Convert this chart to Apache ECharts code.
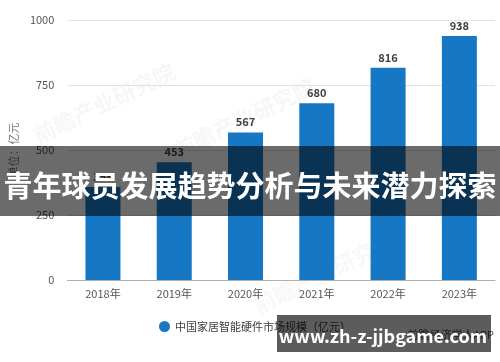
<!DOCTYPE html>
<html><head><meta charset="utf-8">
<script src="https://cdn.jsdelivr.net/npm/echarts@6/dist/echarts.min.js"></script>
<style>html,body{margin:0;padding:0;background:#fff}#c{width:500px;height:362px}</style>
</head><body><div id="c"></div>
<script>
const categories = ['2018年','2019年','2020年','2021年','2022年','2023年'];
const marketSize = [358, 453, 567, 680, 816, 938];
const yTicks = [0, 250, 500, 750, 1000];
const seriesName = '中国家居智能硬件市场规模（亿元）';
const yAxisName = '单位：亿元';
const bannerTitle = '青年球员发展趋势分析与未来潜力探索';
const siteText = 'www.zh-z-jjbgame.com';
const appText = '前瞻经济学人APP';

const chart = echarts.init(document.getElementById('c'));
const font = '"Noto Sans CJK SC", "Noto Sans", sans-serif';
chart.setOption({
  animation: false,
  textStyle: { fontFamily: font },
  grid: { left: 61, right: 5, top: 20, bottom: 82 },
  legend: {
    left: 154, top: 316, icon: 'circle', itemWidth: 11, itemHeight: 11, itemGap: 6,
    textStyle: { fontSize: 11, color: '#404040', fontFamily: font },
    data: [seriesName]
  },
  xAxis: {
    type: 'category', data: categories,
    axisLine: { lineStyle: { color: '#b0b0b0' } },
    axisTick: { alignWithLabel: true, length: 5, lineStyle: { color: '#b0b0b0' } },
    axisLabel: { fontSize: 11, color: '#555', margin: 8 }
  },
  yAxis: {
    type: 'value', min: yTicks[0], max: yTicks[yTicks.length - 1], interval: 250,
    name: yAxisName, nameLocation: 'middle', nameRotate: 90, nameGap: 44,
    nameTextStyle: { fontSize: 11, color: '#777' },
    axisLabel: { fontSize: 11, color: '#555', margin: 13, formatter: v => String(v) },
    splitLine: { lineStyle: { color: '#e3e3e3' } },
    axisLine: { show: false }, axisTick: { show: false }
  },
  series: [{
    name: seriesName, type: 'bar', data: marketSize, barWidth: 35,
    itemStyle: { color: '#1677c5' },
    label: { show: true, position: 'top', distance: 5, fontSize: 11, fontWeight: 'bold', color: '#404040' }
  }],
  graphic: [
    { type: 'text', left: 30, top: 60, rotation: Math.PI / 7, z: 0,
      style: { text: '前瞻产业研究院', fontSize: 22, fontWeight: 'bold', fill: 'rgba(0,0,0,0.035)', fontFamily: font } },
    { type: 'text', left: 170, top: 75, rotation: Math.PI / 7, z: 0,
      style: { text: '前瞻产业研究院', fontSize: 22, fontWeight: 'bold', fill: 'rgba(0,0,0,0.035)', fontFamily: font } },
    { type: 'text', left: 250, top: 230, rotation: Math.PI / 7, z: 0,
      style: { text: '前瞻产业研究院', fontSize: 22, fontWeight: 'bold', fill: 'rgba(0,0,0,0.03)', fontFamily: font } },
    { type: 'text', right: 6, top: 329, z: 50,
      style: { text: appText, fontSize: 11, fill: '#555', fontFamily: font } },
    { type: 'rect', shape: { x: 0, y: 146, width: 500, height: 70 }, z: 100,
      style: { fill: 'rgba(0,0,0,0.58)' } },
    { type: 'text', x: 250, y: 186, z: 101,
      style: { text: bannerTitle, fontSize: 29, fontWeight: 'bold', fill: '#fff', align: 'center', verticalAlign: 'middle', fontFamily: font } },
    { type: 'rect', shape: { x: 277, y: 315, width: 214, height: 37 }, z: 100,
      style: { fill: 'rgba(0,0,0,0.64)' } },
    { type: 'text', x: 383, y: 336, z: 101,
      style: { text: siteText, fontSize: 18, fontWeight: 'bold', fill: '#fff', align: 'center', verticalAlign: 'middle', fontFamily: font } }
  ]
});
</script></body></html>
